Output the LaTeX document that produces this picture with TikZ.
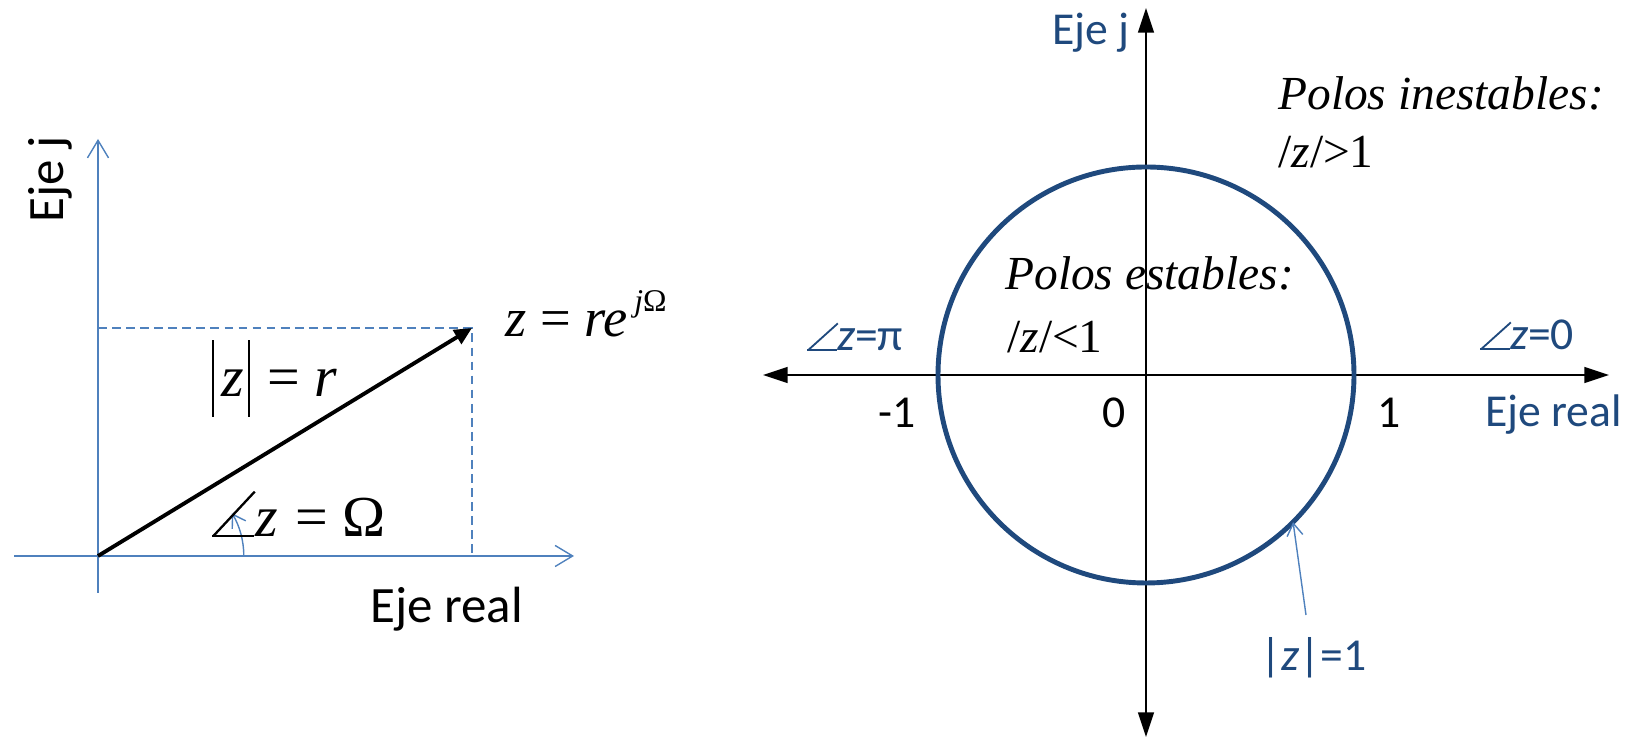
\documentclass[tikz,border=0pt]{standalone}
\usepackage{fontspec}
\setmainfont{Liberation Serif}
\newfontfamily\calibri{Carlito}
\usetikzlibrary{arrows.meta}
\definecolor{axblue}{HTML}{4F81BD}
\definecolor{cirblue}{HTML}{1F497D}
% angle sign built from two rules: #1 base, #2 slope, #3 slanted length
\newcommand{\angsym}[3]{\makebox[#1][l]{\rlap{\rule{#1}{0.04em}}\rotatebox[origin=bl]{#2}{\rule{#3}{0.04em}}}}
\newcommand{\tallbar}{\rule[-0.34em]{1.1pt}{1.33em}}

\begin{document}
\begin{tikzpicture}[
    x=0.02cm, y=0.02cm,
    laxis/.style={axblue,line width=0.8pt,-{Straight Barb[length=10pt,width=12pt]}},
    raxis/.style={black,line width=1.1pt,{Triangle[length=14pt,width=9pt]}-{Triangle[length=14pt,width=9pt]}},
    vec/.style={black,line width=2.2pt,-{Triangle[length=10pt,width=9pt]}},
    guide/.style={axblue,line width=0.8pt,dash pattern=on 5pt off 3pt},
    sans/.style={font=\calibri\fontsize{26}{30}\selectfont,inner sep=0pt},
    lsans/.style={font=\calibri\fontsize{29}{33}\selectfont,inner sep=0pt},
    times/.style={font=\fontsize{27}{32}\selectfont\itshape,inner sep=0pt},
    big/.style={font=\fontsize{33}{38}\selectfont,inner sep=0pt},
]
\useasboundingbox (0,0) rectangle (1634,739);

% ---- left: polar form of z ----
\coordinate (O) at (98,183);
\coordinate (P) at (472,411);
\coordinate (xl) at (14,183);
\coordinate (xr) at (574,183);
\coordinate (yb) at (98,146);
\coordinate (yt) at (98,600);
\coordinate (Py) at (98,411);
\coordinate (Px) at (472,183);

\draw[laxis] (xl) -- (xr);
\draw[laxis] (yb) -- (yt);
\draw[guide] (Py) -- (P) -- (Px);
\draw[vec] (O) -- (P);
\draw[axblue,line width=0.8pt,-{Straight Barb[length=7pt,width=9pt]}] ([xshift=83]O) arc (0:31:83);

\node[lsans,rotate=90] (ejejl) at (50,560) {Eje j};
\node[lsans,anchor=base west] (ejerl) at (370,116) {Eje real};
\node[big,anchor=base west] (modz) at (212,342)
    {\tallbar\hspace{0.12em}\textit{z}\hspace{0.08em}\tallbar\hspace{0.3em}=\hspace{0.25em}\textit{r}};
\node[big,anchor=base west] (argz) at (212,202)
    {\angsym{0.72em}{47}{1.05em}\hspace{0.03em}\textit{z}\hspace{0.3em}=\hspace{0.25em}Ω};
\node[big,anchor=base west,font=\fontsize{31}{36}\selectfont] (zexp) at (505,402)
    {\textit{z} = \textit{re}\hspace{0.12em}\raisebox{0.46em}{\fontsize{18}{20}\selectfont\textit{j}Ω}};

% ---- right: unit circle ----
\coordinate (C) at (1146,364);
\coordinate (xw) at (763,364);
\coordinate (xe) at (1609,364);
\coordinate (ys) at (1146,2);
\coordinate (yn) at (1146,731);

\draw[raxis] (xw) -- (xe);
\draw[raxis] (ys) -- (yn);
\draw[cirblue,line width=2.8pt] (C) circle (208);

\node[sans,text=cirblue,anchor=base west] (ejejr) at (1052,694) {Eje j};
\node[sans,text=cirblue,anchor=base west] (ejerr) at (1485,312) {Eje real};
\node[sans,text=cirblue,anchor=base west] (argpi) at (807,388) {\angsym{0.65em}{42}{0.88em}\textit{z}=π};
\node[sans,text=cirblue,anchor=base west] (argzero) at (1480,389) {\angsym{0.65em}{42}{0.88em}\textit{z}=0};
\node[sans,anchor=base west] (mone) at (878,311) {-1};
\node[sans,anchor=base west] (zero) at (1102,311) {0};
\node[sans,anchor=base west] (one) at (1377,311) {1};

\node[times,anchor=base west] (inest) at (1278,629) {Polos inestables:};
\node[times,anchor=base west] (outz) at (1278,571) {\upshape /\textit{z}/\textgreater1};
\node[times,anchor=base west] (est) at (1005,449) {Polos estables:};
\node[times,anchor=base west] (inz) at (1007,386) {\upshape /\textit{z}/\textless1};

% |z|=1 pointer
\node[sans,text=cirblue,anchor=base west] (unit) at (1260,68) {|\textit{z}|=1};
\coordinate (pin) at (1306,124);
\coordinate (onc) at ([shift={(-45:208)}]C);
\draw[axblue,line width=0.8pt,-{Straight Barb[length=7pt,width=9pt]}] (pin) -- (onc);
\end{tikzpicture}
\end{document}
